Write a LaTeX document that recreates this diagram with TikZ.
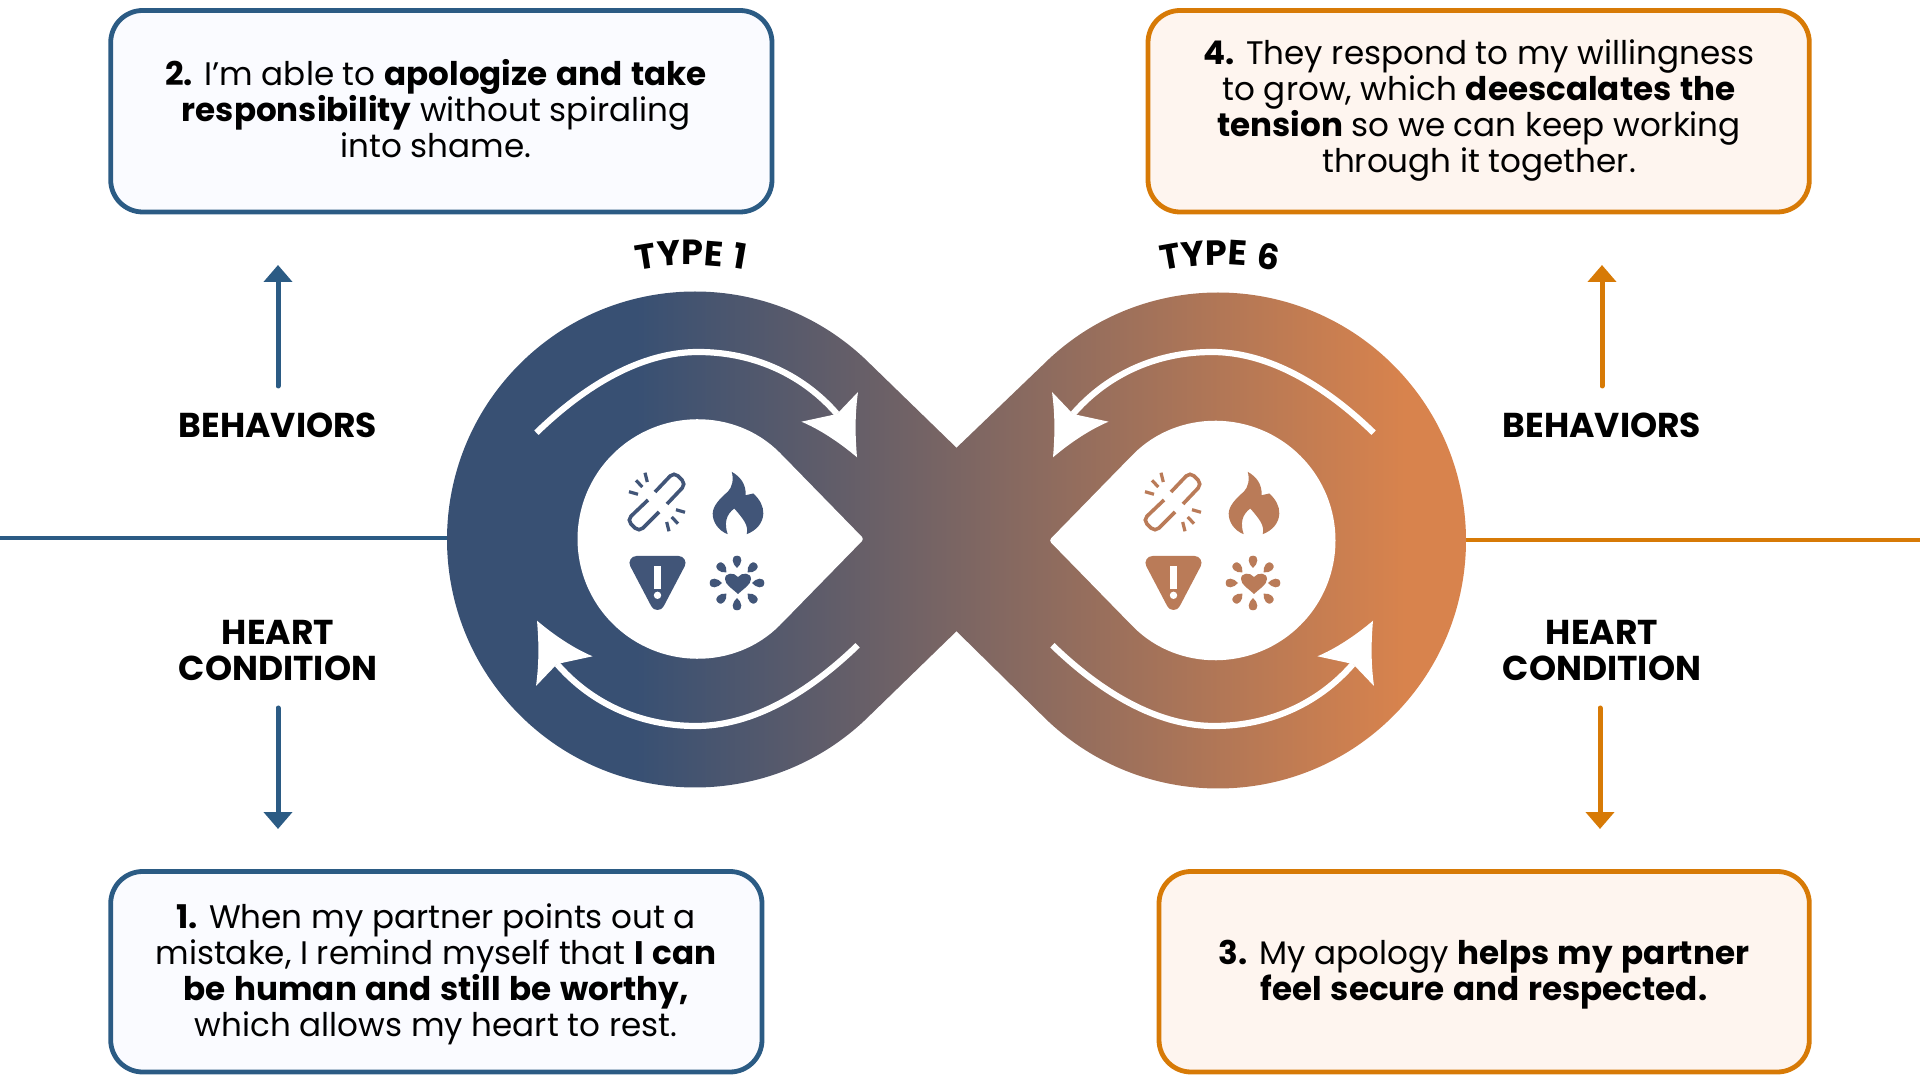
\documentclass[tikz,border=0pt]{standalone}
\usepackage{fontspec}
\setmainfont{Poppins}[BoldFeatures={WordSpace=1.25}]
\usetikzlibrary{arrows.meta,decorations.text}

\definecolor{bluedeep}{HTML}{2B5B84}
\definecolor{orangedeep}{HTML}{D77A06}
\definecolor{bluepale}{HTML}{FAFBFF}
\definecolor{orangepale}{HTML}{FEF5EF}
\definecolor{iconblue}{HTML}{415578}
\definecolor{iconorange}{HTML}{BA7B58}
\definecolor{ribbonblue}{HTML}{385073}
\definecolor{ribbonorange}{HTML}{D8834D}

% path box 447..1466 is 25bp..75bp of the shading
\pgfdeclarehorizontalshading{ribbon}{100bp}{
    color(0bp)=(ribbonblue);
    color(35bp)=(ribbonblue);
    color(71bp)=(ribbonorange);
    color(100bp)=(ribbonorange)}

\begin{document}
\begin{tikzpicture}[
    x=1pt, y=1pt,
    box/.style={rounded corners=32pt, line width=4.8pt},
    bodytxt/.style={font=\fontsize{32.6}{36}\selectfont, align=center, inner sep=0pt},
    lbl/.style={font=\fontsize{34.5}{36}\selectfont\bfseries, align=center, inner sep=0pt},
    flow/.style={line width=5pt, line cap=round, -{Triangle[width=28pt,length=17pt]}},
    tear/.style={fill=white, rounded corners=3pt},
    spark/.style={line width=3.2pt},
]
\useasboundingbox (0,0) rectangle (1920,1080);

% --- Horizontal rules ---
\draw[bluedeep, line width=3.5pt] (0,542) -- (460,542);
\draw[orangedeep, line width=3.5pt] (1450,540) -- (1920,540);

% --- Ribbon: two lobes meeting at the waist ---
\def\rr{248}
\coordinate (lc) at (695,540.5);
\coordinate (rc) at (1218,539.5);
\coordinate (waisttop) at (956.5,632.2);
\coordinate (waistbot) at (956.5,448.8);
\shade[shading=ribbon]
    (waisttop) -- ([shift={(45:\rr)}]lc)
    arc[start angle=45, end angle=315, radius=\rr]
    -- (waistbot) -- ([shift={(-135:\rr)}]rc)
    arc[start angle=-135, end angle=135, radius=\rr] -- cycle;

% --- White teardrops ---
\def\rt{119.5}
\coordinate (ltip) at (864,541);
\coordinate (rtip) at (1049,539.5);
\coordinate (lhole) at (697,541);
\coordinate (rhole) at (1216,539.5);
\fill[tear] (ltip) -- ([shift={(45:\rt)}]lhole)
    arc[start angle=45, end angle=315, radius=\rt] -- cycle;
\fill[tear] (rtip) -- ([shift={(-135:\rt)}]rhole)
    arc[start angle=-135, end angle=135, radius=\rt] -- cycle;

% --- Loop arrows ---
\foreach \cx/\sx/\sy in {697/1/1, 697/-1/-1, 1213/-1/1, 1213/1/-1} {
    \begin{scope}[shift={(\cx,541)}, xscale=\sx, yscale=\sy]
        \draw[white, line width=6.2pt]
            (-160.6,106.3) .. controls (-105,160) and (-50,187) .. (1,187)
            .. controls (60,187) and (108,162) .. (140,125);
        \fill[white] (160,81.7) .. controls (158,105) and (158,125) .. (161,147)
            -- (140,125) -- (104.4,117.3)
            .. controls (122,110) and (142,97) .. (160,81.7) -- cycle;
    \end{scope}
}

% --- Icons: one set per lobe ---
\foreach \ox/\ic in {0/iconblue, 516/iconorange} {
    % broken link
    \begin{scope}[shift={(657+\ox,578)}]
        \draw[\ic, line width=3.6pt, rounded corners=5.5pt]
            (-2,10) -- (17,30) -- (29,18) -- (10,-2);
        \draw[\ic, line width=3.6pt, rounded corners=5.5pt]
            (-9,2) -- (-30,-18) -- (-18,-30) -- (2,-10);
        \foreach \sg in {1,-1} {
            \draw[\ic, spark] (\sg*-28,\sg*10.3) -- (\sg*-19,\sg*7.7);
            \draw[\ic, spark] (\sg*-21,\sg*21.7) -- (\sg*-14.7,\sg*15);
            \draw[\ic, spark] (\sg*-12,\sg*29.3) -- (\sg*-9.7,\sg*20);
        }
    \end{scope}
    % flame
    \begin{scope}[shift={(738+\ox,576.5)}]
        \fill[\ic] (-6.3,31.7) .. controls (2,27) and (8,20) .. (7.7,8.3)
            .. controls (11,9.5) and (13,9) .. (15.3,10)
            .. controls (22,4) and (25.5,-3) .. (25.3,-10)
            .. controls (25,-20) and (18,-27) .. (8.7,-30.7)
            .. controls (11,-22) and (5,-15) .. (-3.7,-5)
            .. controls (-12,-11) and (-14,-20) .. (-10.3,-30.7)
            .. controls (-20,-27) and (-25.5,-18) .. (-25.3,-10)
            .. controls (-25,-2) and (-18,5) .. (-10,12)
            .. controls (-6,16) and (-4,24) .. (-6.3,31.7) -- cycle;
    \end{scope}
    % warning triangle
    \begin{scope}[shift={(657.5+\ox,497)}]
        \filldraw[\ic, line width=14pt, line join=round] (-21,20) -- (21,20) -- (0,-20) -- cycle;
        \fill[white] (-3.7,16.7) rectangle (3.7,-6);
        \fill[white] (0,-12.3) circle[radius=3.7];
    \end{scope}
    % heart with drops
    \begin{scope}[shift={(737+\ox,497)}]
        \fill[\ic] (1,-11) .. controls (-4,-6) and (-12,-2) .. (-12,4)
            .. controls (-12,10.5) and (-3,11) .. (1,6)
            .. controls (5,11) and (14,10.5) .. (14,4)
            .. controls (14,-2) and (6,-6) .. (1,-11) -- cycle;
        \foreach \a in {0,45,...,315} {
            \fill[\ic, rotate=\a] (15,0) .. controls (19,5) and (27,6.5) .. (27.3,0)
                .. controls (27,-6.5) and (19,-5) .. (15,0) -- cycle;
        }
    \end{scope}
}

% --- Boxes ---
\draw[box, draw=bluedeep, fill=bluepale] (110.7,1069.5) rectangle (772,868);
\node[bodytxt] (boxtwo) at (436,971)
    {\textbf{2.} I’m able to \textbf{apologize and take}\\
     \textbf{responsibility} without spiraling\\into shame.};

\draw[box, draw=orangedeep, fill=orangepale] (1148,1069.5) rectangle (1809.3,868);
\node[bodytxt] (boxfour) at (1479,969.5)
    {\textbf{4.} They respond to my willingness\\
     to grow, which \textbf{deescalates the}\\
     \textbf{tension} so we can keep working\\through it together.};

\draw[box, draw=bluedeep, fill=bluepale] (110.7,208.5) rectangle (762,8);
\node[bodytxt] (boxone) at (436,105.5)
    {\textbf{1.} When my partner points out a\\
     mistake, I remind myself that \textbf{I can}\\
     \textbf{be human and still be worthy,}\\which allows my heart to rest.};

\draw[box, draw=orangedeep, fill=orangepale] (1159,208.5) rectangle (1809.3,8);
\node[bodytxt] (boxthree) at (1484,105.5)
    {\textbf{3.} My apology \textbf{helps my partner}\\
     \textbf{feel secure and respected.}};

% --- Side labels ---
\node[lbl] (behl) at (278,655) {BEHAVIORS};
\node[lbl] (hearl) at (278,429) {HEART\\CONDITION};
\node[lbl] (behr) at (1602,655) {BEHAVIORS};
\node[lbl] (hearr) at (1602,429) {HEART\\CONDITION};

% --- Arrows towards the boxes ---
\coordinate (upla) at (278,694);
\coordinate (uplb) at (278,815);
\coordinate (dnla) at (278,372);
\coordinate (dnlb) at (278,251);
\coordinate (upra) at (1602,694);
\coordinate (uprb) at (1602,815);
\coordinate (dnra) at (1600,372);
\coordinate (dnrb) at (1600,251);
\draw[flow, bluedeep] (upla) -- (uplb);
\draw[flow, bluedeep] (dnla) -- (dnlb);
\draw[flow, orangedeep] (upra) -- (uprb);
\draw[flow, orangedeep] (dnra) -- (dnrb);

% --- Curved titles ---
\path[decorate, decoration={text along path, text align=center,
        text={|\fontsize{35}{36}\selectfont\bfseries|TYPE 1}}]
    (691,540) ++(125:275) arc[start angle=125, end angle=55, radius=275];
\path[decorate, decoration={text along path, text align=center,
        text={|\fontsize{35}{36}\selectfont\bfseries|TYPE 6}}]
    (1220,540) ++(125:275) arc[start angle=125, end angle=55, radius=275];

\end{tikzpicture}
\end{document}
